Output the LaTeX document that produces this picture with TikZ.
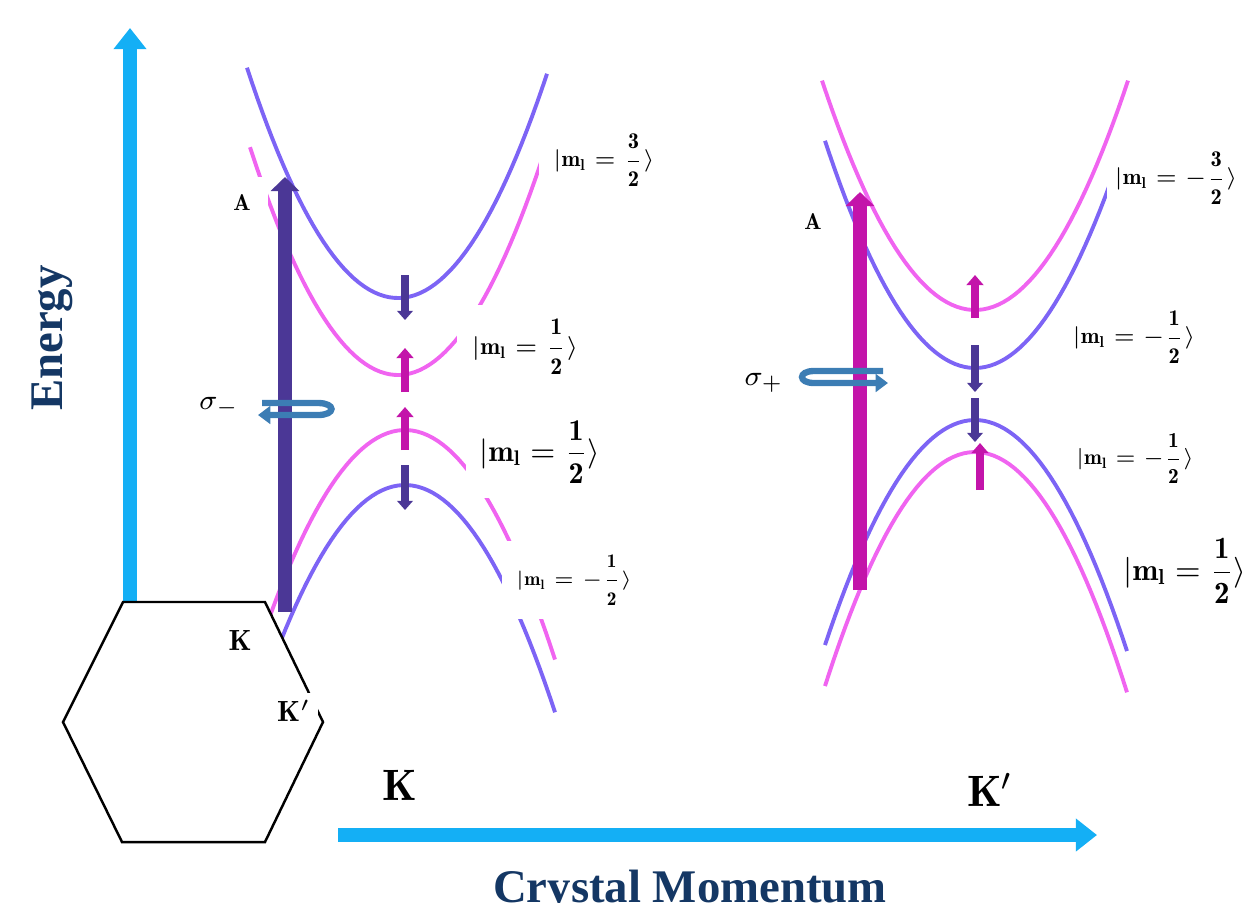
\RequirePackage{fix-cm}
\documentclass[tikz,border=0pt]{standalone}
\usepackage{amsmath,amssymb}
\usepackage{fontspec}
\newfontfamily\axisfont{Liberation Serif}
\usepackage{tikz}
\usetikzlibrary{arrows.meta}

\definecolor{bandblue}{RGB}{125,100,245}
\definecolor{bandpink}{RGB}{240,100,240}
\definecolor{spindown}{RGB}{75,55,150}
\definecolor{spinup}{RGB}{195,20,170}
\definecolor{axiscyan}{RGB}{20,175,245}
\definecolor{titleblue}{RGB}{20,55,100}
\definecolor{ringblue}{RGB}{60,125,180}

\begin{document}
\begin{tikzpicture}[
    x=0.01cm, y=-0.01cm,
    band/.style={line width=1.1pt},
    blueband/.style={band, draw=bandblue},
    pinkband/.style={band, draw=bandpink},
    axis/.style={draw=axiscyan, line width=4.2pt, -{Triangle[length=6pt,width=9pt]}},
    bigarrow/.style={line width=3.9pt, -{Triangle[length=4pt,width=8pt]}},
    downarrow/.style={draw=spindown, line width=2pt, -{Triangle[length=2.6pt,width=4.4pt]}},
    uparrow/.style={draw=spinup, line width=2pt, -{Triangle[length=2.9pt,width=4.8pt]}},
    ring/.style={draw=ringblue, line width=1.8pt, -{Triangle[length=3.5pt,width=5pt]}},
    ket/.style={fill=white, inner sep=4pt, font=\fontsize{#1}{10}\selectfont},
    title/.style={text=titleblue, font=\axisfont\bfseries\fontsize{13.3}{16}\selectfont}
]
\useasboundingbox (0,0) rectangle (1242,902);

% axes
\draw[axis] (130,602) -- (130,28);
\draw[axis] (338,835) -- (1097,835);

% bands at K
\draw[blueband] plot[domain=-15.1:14.9, samples=60] ({398+10*\x}, {298-1.01*\x*\x});
\draw[pinkband] plot[domain=-14.8:14.7, samples=60] ({398+10*\x}, {375-1.04*\x*\x});
\draw[pinkband] plot[domain=-15:15, samples=60] ({405+10*\x}, {430+1.02*\x*\x});
\draw[blueband] plot[domain=-15:15, samples=60] ({405+10*\x}, {485+1.01*\x*\x});

% bands at K'
\draw[pinkband] plot[domain=-15.3:15.3, samples=60] ({975+10*\x}, {310-0.98*\x*\x});
\draw[blueband] plot[domain=-15:14.5, samples=60] ({975+10*\x}, {368-1.01*\x*\x});
\draw[blueband] plot[domain=-15:15.2, samples=60] ({975+10*\x}, {420+1.0*\x*\x});
\draw[pinkband] plot[domain=-15:15.2, samples=60] ({975+10*\x}, {452+1.04*\x*\x});

% Brillouin zone
\draw[fill=white, line width=0.7pt] (63,722) -- (123,602) -- (265,602) -- (323,722)
    -- (265,842) -- (122,842) -- cycle;

% state labels
\node[ket=6.4] (kA) at (604,160) {$|\mathbf{m_l}=\dfrac{\mathbf{3}}{\mathbf{2}}\rangle$};
\node[ket=6.8] (kB) at (525,347) {$|\mathbf{m_l}=\dfrac{\mathbf{1}}{\mathbf{2}}\rangle$};
\node[ket=8.6] (kC) at (540,452) {$|\mathbf{m_l}=\dfrac{\mathbf{1}}{\mathbf{2}}\rangle$};
\node[ket=5.5] (kD) at (574,580) {$|\mathbf{m_l}=-\dfrac{\mathbf{1}}{\mathbf{2}}\rangle$};
\node[ket=6.4, inner sep=2pt] (kE) at (1176,178) {$|\mathbf{m_l}=-\dfrac{\mathbf{3}}{\mathbf{2}}\rangle$};
\node[ket=6.4, inner sep=2pt] (kF) at (1134,337) {$|\mathbf{m_l}=-\dfrac{\mathbf{1}}{\mathbf{2}}\rangle$};
\node[ket=6.1, inner sep=2pt] (kG) at (1135,458) {$|\mathbf{m_l}=-\dfrac{\mathbf{1}}{\mathbf{2}}\rangle$};
\node[ket=8.8, inner sep=2pt] (kH) at (1185,571) {$|\mathbf{m_l}=\dfrac{\mathbf{1}}{\mathbf{2}}\rangle$};

\node[font=\fontsize{6.5}{8}\selectfont, fill=white, inner sep=5pt] (aK) at (242,203) {$\mathbf{A}$};
\node[font=\fontsize{6.5}{8}\selectfont] (aKp) at (813,222) {$\mathbf{A}$};
\node[font=\fontsize{8}{10}\selectfont] (sm) at (219,407) {$\sigma_-$};
\node[font=\fontsize{8}{10}\selectfont] (sp) at (764,383) {$\sigma_+$};

% optical transitions
\draw[bigarrow, draw=spindown] (285,612) -- (285,177);
\draw[bigarrow, draw=spinup] (860,590) -- (860,192);
\draw[ring] (262,403) -- (318,403) .. controls (336,403) and (336,415) .. (318,415) -- (258,415);
\draw[ring] (883,371) -- (814,371) .. controls (798,371) and (798,383) .. (814,383) -- (888,383);

% spin arrows
\draw[downarrow] (405,275) -- (405,320);
\draw[uparrow] (405,392) -- (405,348);
\draw[uparrow] (405,450) -- (405,407);
\draw[downarrow] (405,465) -- (405,510);
\draw[uparrow] (975,318) -- (975,275);
\draw[downarrow] (975,345) -- (975,392);
\draw[downarrow] (975,398) -- (975,442);
\draw[uparrow] (980,490) -- (980,443);

\node[font=\fontsize{8.3}{10}\selectfont, fill=white, inner sep=1pt] (hK) at (240,640) {$\mathbf{K}$};
\node[font=\fontsize{8.3}{10}\selectfont, fill=white, inner sep=2pt] (hKp) at (294,711) {$\mathbf{K}'$};
\node[font=\fontsize{12.5}{14}\selectfont] (vK) at (400,785) {$\mathbf{K}$};
\node[font=\fontsize{12.5}{14}\selectfont] (vKp) at (990,790) {$\mathbf{K}'$};

% axis titles
\node[title, rotate=90] (energy) at (52,338) {Energy};
\node[title, anchor=base] (momentum) at (690,902) {Crystal Momentum};
\end{tikzpicture}
\end{document}
